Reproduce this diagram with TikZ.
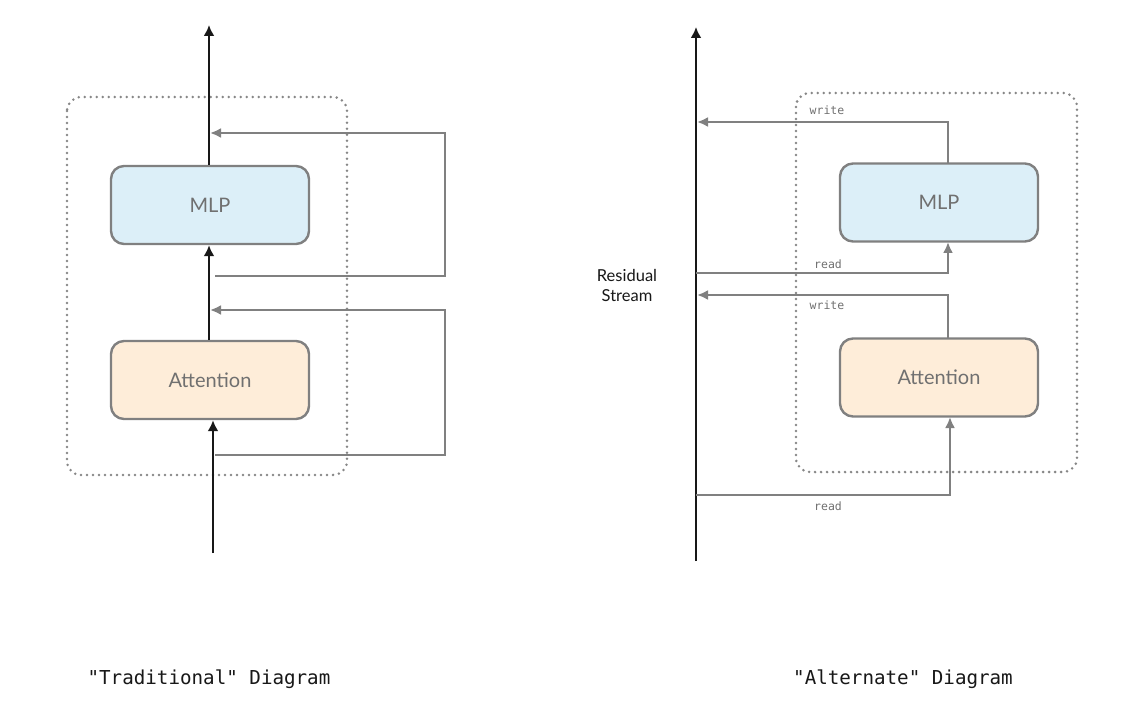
\documentclass[tikz,border=0pt]{standalone}
\usepackage{fontspec}
\setmainfont{Lato}
\newfontfamily\capfont{DejaVu Sans Mono}
\usetikzlibrary{arrows.meta}
\definecolor{mlpfill}{RGB}{220,239,248}
\definecolor{attfill}{RGB}{254,237,217}
\definecolor{edgegray}{RGB}{128,128,128}
\definecolor{dotgray}{RGB}{135,135,135}
\definecolor{txtgray}{RGB}{112,112,112}
\definecolor{ink}{RGB}{24,24,24}
\tikzset{
  block/.style={draw=edgegray, line width=2.4pt, rounded corners=13pt, minimum width=198pt, minimum height=78pt, inner sep=0pt, font=\fontsize{20}{23}\selectfont, text=txtgray},
  mlpbox/.style={block, fill=mlpfill},
  attbox/.style={block, fill=attfill},
  mainarrow/.style={draw=ink, line width=2.8pt, -{Latex[length=11pt,width=11pt]}},
  skip/.style={draw=edgegray, line width=2.4pt, -{Latex[length=11pt,width=10pt]}},
  dotbox/.style={draw=dotgray, line width=2.8pt, dash pattern=on 0pt off 6pt, line cap=round, rounded corners=14pt},
  rwlabel/.style={font=\capfont\fontsize{11.5}{13}\selectfont, text=txtgray, inner sep=0pt},
  caption/.style={font=\capfont\fontsize{19.2}{22}\selectfont, text=ink, inner sep=0pt}
}
\begin{document}
\begin{tikzpicture}[x=1pt,y=-1pt]
\useasboundingbox (0,0) rectangle (1122,711);
\fill[white] (0,0) rectangle (1122,711);

% ---------------- Left: traditional ----------------
\draw[dotbox] (67,97) rectangle (347,475);
\node[mlpbox] (mlpL) at (210,205) {MLP};
\node[attbox] (attL) at (210,380) {Attention};

\coordinate (outL) at (209,25);
\coordinate (inL) at (213,553);
\draw[mainarrow] (mlpL.north -| outL) -- (outL);
\draw[mainarrow] (attL.north -| outL) -- (mlpL.south -| outL);
\draw[mainarrow] (inL) -- (inL |- attL.south);

\coordinate (l1s) at (215,276);
\coordinate (l1r) at (445,276);
\coordinate (l1t) at (445,133);
\coordinate (l1e) at (210,133);
\draw[skip] (l1s) -- (l1r) -- (l1t) -- (l1e);

\coordinate (l2s) at (215,455);
\coordinate (l2r) at (445,455);
\coordinate (l2t) at (445,310);
\coordinate (l2e) at (210,310);
\draw[skip] (l2s) -- (l2r) -- (l2t) -- (l2e);

\node[caption] (capL) at (209,679) {"Traditional" Diagram};

% ---------------- Right: alternate ----------------
\draw[dotbox] (796,93) rectangle (1077,472);
\node[mlpbox] (mlpR) at (939,202.5) {MLP};
\node[attbox] (attR) at (939,377.5) {Attention};

\coordinate (sB) at (696,561);
\coordinate (sT) at (696,27);
\draw[mainarrow] (sB) -- (sT);

\node[font=\fontsize{16.5}{20}\selectfont, text=ink, align=center, inner sep=0pt] (res) at (627,285) {Residual\\Stream};

% MLP write
\coordinate (mw1) at (948,163);
\coordinate (mw2) at (948,122);
\coordinate (mw3) at (697,122);
\draw[skip] (mw1) -- (mw2) -- (mw3);
\node[rwlabel] (mwl) at (827,110) {write};

% MLP read
\coordinate (mr1) at (696,273);
\coordinate (mr2) at (948,273);
\coordinate (mr3) at (948,242);
\draw[skip] (mr1) -- (mr2) -- (mr3);
\node[rwlabel] (mrl) at (828,264) {read};

% Attention write
\coordinate (aw1) at (948,338);
\coordinate (aw2) at (948,295);
\coordinate (aw3) at (697,295);
\draw[skip] (aw1) -- (aw2) -- (aw3);
\node[rwlabel] (awl) at (827,305) {write};

% Attention read
\coordinate (ar1) at (696,495);
\coordinate (ar2) at (950,495);
\coordinate (ar3) at (950,417);
\draw[skip] (ar1) -- (ar2) -- (ar3);
\node[rwlabel] (arl) at (828,506) {read};

\node[caption] (capR) at (903,679) {"Alternate" Diagram};
\end{tikzpicture}
\end{document}
